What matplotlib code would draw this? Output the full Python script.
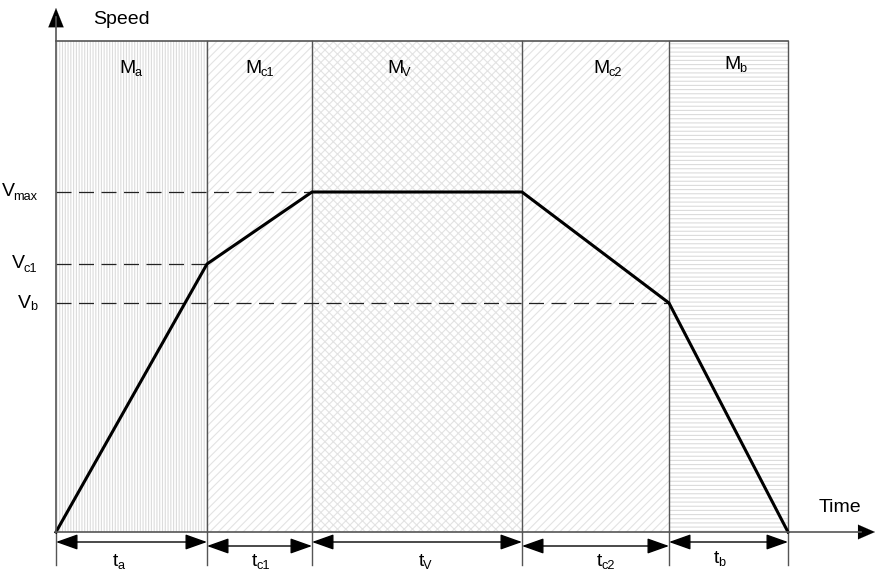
import matplotlib
matplotlib.use("Agg")
import matplotlib.pyplot as plt
from matplotlib.patches import Rectangle
from matplotlib.patches import ArrowStyle
import numpy as np

plt.rcParams['font.family'] = ['Liberation Sans', 'DejaVu Sans']
plt.rcParams['hatch.linewidth'] = 0.8

# ---- data ----
phases = ['a', 'c1', 'V', 'c2', 'b']
durations = [15.1, 10.5, 21.0, 14.7, 11.9]          # t_a, t_c1, t_V, t_c2, t_b
v_c1, v_max, v_b = 26.8, 34.0, 22.9
region_top = 49.1
speed_labels = ['max', 'c1', 'b']
speed_values = [v_max, v_c1, v_b]
profile_speeds = [0.0, v_c1, v_max, v_max, v_b, 0.0]
hatches = ['||||||', '////', 'xxxx', '////', '----']
hatch_colors = ['#dcdcdc', '#e3e3e3', '#e3e3e3', '#e3e3e3', '#dcdcdc']
region_label_x = [6.3, 18.9, 33.1, 53.7, 66.8]       # left edge of M labels
region_label_y = [45.9, 45.9, 45.9, 45.9, 46.3]
time_label_x = [5.7, 19.6, 36.3, 54.1, 65.8]         # left edge of t labels
time_label_y = [-3.4, -3.4, -3.4, -3.4, -3.1]
time_arrow_y = [-1.0, -1.4, -1.0, -1.4, -1.0]

bounds = np.concatenate([[0], np.cumsum(durations)])
t_end = bounds[-1]

fig = plt.figure(figsize=(8.79, 5.76), dpi=100)
ax = fig.add_axes([0, 0, 1, 1])
ax.set_xlim(-5.6, 82.3)
ax.set_ylim(-4.4, 53.2)
ax.axis('off')
renderer = fig.canvas.get_renderer()
PX = 0.1  # data units per pixel (both directions)

edge = '#555555'
fs = 14
sfs = 9.2


def sub_text(x, y, main, sub, ha='left', drop=3.0):
    t1 = ax.text(x, y, main, fontsize=fs, ha='left', va='baseline', zorder=7)
    t2 = ax.text(x, y, sub, fontsize=sfs, ha='left', va='baseline', zorder=7)
    w1 = t1.get_window_extent(renderer).width * PX
    w2 = t2.get_window_extent(renderer).width * PX
    total = w1 + w2
    start = x - {'left': 0.0, 'center': total / 2, 'right': total}[ha]
    t1.set_x(start)
    t2.set_x(start + w1 - 0.1)
    t2.set_y(y - drop * PX)


# hatched regions
for i in range(5):
    ax.add_patch(Rectangle((bounds[i], 0), durations[i], region_top, facecolor='white',
                           edgecolor=hatch_colors[i], hatch=hatches[i], linewidth=0, zorder=1))
# region borders
ax.plot([bounds[0], t_end], [region_top, region_top], color=edge, lw=1.2, zorder=3)
for b in bounds[1:]:
    ax.plot([b, b], [0, region_top], color=edge, lw=1.0, zorder=3)

# dashed reference lines
dash_ends = [bounds[2], bounds[1], bounds[4]]
for v, xe in zip(speed_values, dash_ends):
    ax.plot([0, xe], [v, v], color='#222222', lw=0.9, dashes=(12, 6), zorder=4)

# speed profile
ax.plot(bounds, profile_speeds, color='black', lw=2.2, zorder=5, solid_joinstyle='miter')

# axes
ax.plot([0, 0], [0, 51.5], color=edge, lw=1.2, zorder=6)
ax.plot([0, 80.5], [0, 0], color=edge, lw=1.2, zorder=6)
ax.annotate('', xy=(0, 52.4), xytext=(0, 50.4),
            arrowprops=dict(arrowstyle=ArrowStyle('-|>', head_length=0.55, head_width=0.22),
                            mutation_scale=25, color='black', lw=0.1, shrinkA=0, shrinkB=0))
ax.annotate('', xy=(81.9, 0), xytext=(79.9, 0),
            arrowprops=dict(arrowstyle=ArrowStyle('-|>', head_length=0.55, head_width=0.24),
                            mutation_scale=22, color='black', lw=0.1, shrinkA=0, shrinkB=0))

ax.text(3.7, 51.3, 'Speed', fontsize=fs, ha='left', va='center')
ax.text(76.3, 2.4, 'Time', fontsize=fs, ha='left', va='center')

# extension lines and time dimension arrows
for b in bounds:
    ax.plot([b, b], [0, -3.3], color=edge, lw=1.0, zorder=3)
for i in range(5):
    ax.annotate('', xy=(bounds[i], time_arrow_y[i]), xytext=(bounds[i + 1], time_arrow_y[i]),
                arrowprops=dict(arrowstyle=ArrowStyle('<|-|>', head_length=0.45, head_width=0.16),
                                mutation_scale=30, color='black', lw=1.0,
                                shrinkA=0, shrinkB=0))
    sub_text(time_label_x[i], time_label_y[i], 't', phases[i], ha='left')
    sub_text(region_label_x[i], region_label_y[i], 'M', phases[i], ha='left')

# speed labels
for lab, v in zip(speed_labels, speed_values):
    sub_text(-1.75, v - 0.45, 'V', lab, ha='right')

fig.savefig('out.png', dpi=100)
